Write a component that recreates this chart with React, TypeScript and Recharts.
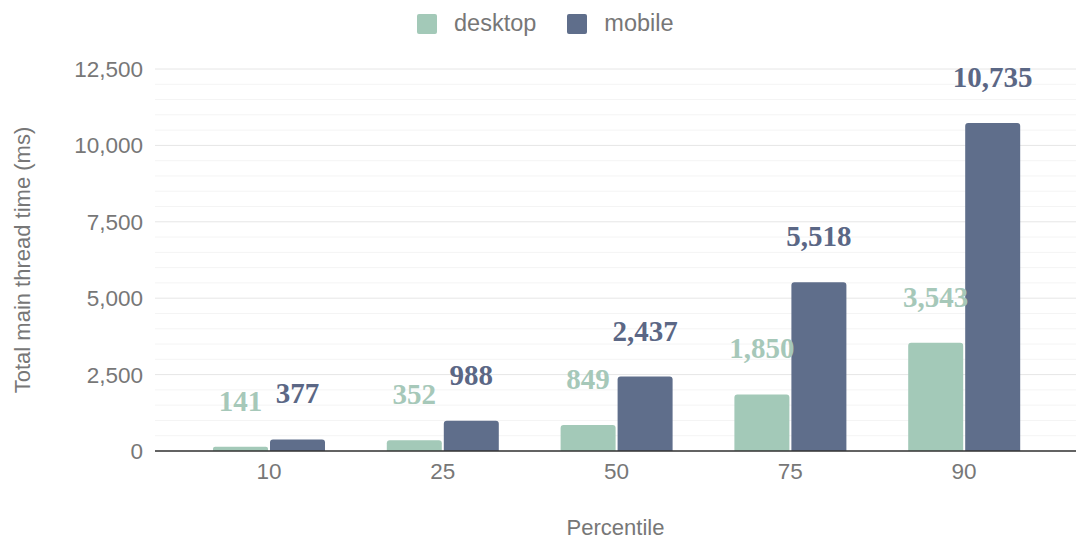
import { BarChart, Bar, XAxis, YAxis, CartesianGrid, Legend, LabelList } from 'recharts';

const percentiles = ['10', '25', '50', '75', '90'];
const desktopMs = [141, 352, 849, 1850, 3543];
const mobileMs = [377, 988, 2437, 5518, 10735];
const yTicks = [0, 2500, 5000, 7500, 10000, 12500];
const minorLines = [500, 1000, 1500, 2000, 3000, 3500, 4000, 4500, 5500, 6000, 6500, 7000, 8000, 8500, 9000, 9500, 10500, 11000, 11500, 12000];

const DESKTOP = '#a3c9b8';
const MOBILE = '#5f6e8b';
const DESKTOP_TEXT = '#a6c8b9';
const MOBILE_TEXT = '#5b6785';
const SANS = '"Liberation Sans", Arial, sans-serif';
const SERIF = '"Liberation Serif", "Times New Roman", serif';

const data = percentiles.map((p, i) => ({ p, desktop: desktopMs[i], mobile: mobileMs[i] }));

const fmt = (v: number) => v.toLocaleString('en-US');

const makeLabel = (color: string) => (props: any) => {
  const { x, y, width, value } = props;
  return (
    <text
      x={x + width / 2}
      y={y - 46}
      textAnchor="middle"
      dominantBaseline="central"
      fill={color}
      fontFamily={SERIF}
      fontWeight="bold"
      fontSize={29}
    >
      {fmt(value)}
    </text>
  );
};

const LegendContent = () => (
  <div style={{ display: 'flex', alignItems: 'center', fontFamily: SANS, fontSize: 23.5, color: '#777' }}>
    <span style={{ width: 20, height: 20, background: DESKTOP, borderRadius: 2, display: 'inline-block' }} />
    <span style={{ marginLeft: 17 }}>desktop</span>
    <span style={{ width: 20, height: 20, background: MOBILE, borderRadius: 2, display: 'inline-block', marginLeft: 31 }} />
    <span style={{ marginLeft: 17 }}>mobile</span>
  </div>
);

export default function App() {
  return (
    <div style={{ position: 'absolute', left: 0, top: 0, background: '#fff' }}>
      <BarChart
        width={1076}
        height={541}
        data={data}
        margin={{ top: 69, right: 0, bottom: 0, left: 0 }}
        barGap={2}
        barSize={55}
      >
        <CartesianGrid vertical={false} stroke="#f4f4f4" horizontalValues={minorLines} />
        <CartesianGrid vertical={false} stroke="#e6e6e6" horizontalValues={yTicks} />
        <XAxis
          dataKey="p"
          height={90}
          padding={{ left: 27, right: 25 }}
          tickLine={false}
          tickSize={0}
          tickMargin={12}
          axisLine={{ stroke: '#333', strokeWidth: 1.5 }}
          tick={{ fill: '#777', fontSize: 22.5, fontFamily: SANS }}
          label={{ value: 'Percentile', position: 'insideBottom', offset: 6, fill: '#777', fontSize: 22, fontFamily: SANS }}
        />
        <YAxis
          width={155}
          domain={[0, 12500]}
          ticks={yTicks}
          interval={0}
          axisLine={false}
          tickLine={false}
          tickSize={0}
          tickMargin={12}
          tickFormatter={fmt}
          tick={{ fill: '#777', fontSize: 22.5, fontFamily: SANS }}
          label={{ value: 'Total main thread time (ms)', angle: -90, position: 'insideLeft', offset: 22, fill: '#777', fontSize: 22, fontFamily: SANS, style: { textAnchor: 'middle' } }}
        />
        <Legend
          verticalAlign="middle"
          align="center"
          layout="horizontal"
          wrapperStyle={{ top: 10, left: 417, width: 'auto' }}
          content={<LegendContent />}
        />
        <Bar dataKey="desktop" fill={DESKTOP} radius={[3, 3, 0, 0]} isAnimationActive={false}>
          <LabelList dataKey="desktop" content={makeLabel(DESKTOP_TEXT)} />
        </Bar>
        <Bar dataKey="mobile" fill={MOBILE} radius={[3, 3, 0, 0]} isAnimationActive={false}>
          <LabelList dataKey="mobile" content={makeLabel(MOBILE_TEXT)} />
        </Bar>
      </BarChart>
    </div>
  );
}
